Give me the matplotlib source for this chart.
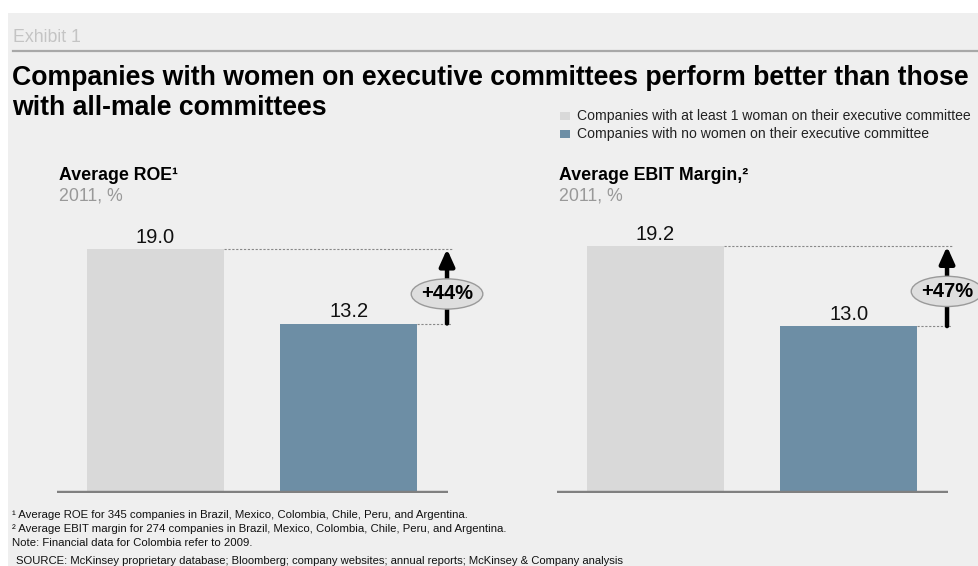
import matplotlib.pyplot as plt
from matplotlib.patches import Ellipse, Rectangle

plt.rcParams['font.family'] = ['Liberation Sans', 'DejaVu Sans']

# data
series = ['Companies with at least 1 woman on their executive committee',
          'Companies with no women on their executive committee']
roe = [19.0, 13.2]
ebit = [19.2, 13.0]
uplift = ['+44%', '+47%']
panel_titles = ['Average ROE\u00b9', 'Average EBIT Margin,\u00b2']
panel_sub = '2011, %'
footnotes = ['\u00b9 Average ROE for 345 companies in Brazil, Mexico, Colombia, Chile, Peru, and Argentina.',
             '\u00b2 Average EBIT margin for 274 companies in Brazil, Mexico, Colombia, Chile, Peru, and Argentina.',
             'Note: Financial data for Colombia refer to 2009.']
source = 'SOURCE: McKinsey proprietary database; Bloomberg; company websites; annual reports; McKinsey & Company analysis'

W, H = 979, 566
bg = '#efefef'
colors = ['#d9d9d9', '#6d8ea5']

fig = plt.figure(figsize=(W / 100, H / 100), dpi=100)
fig.patch.set_facecolor('white')

def fx(x):
    return x / W

def fy(y):
    return 1 - y / H

# gray panel background
fig.add_artist(Rectangle((fx(8), 0), 1, fy(13), transform=fig.transFigure,
                         facecolor=bg, edgecolor='none', zorder=0))

fig.text(fx(13), fy(38), 'Exhibit 1', fontsize=12.8, color='#c4c4c4', va='center')
fig.add_artist(plt.Line2D([fx(13), 1], [fy(50.5), fy(50.5)], transform=fig.transFigure,
                          color='#a8a8a8', lw=1.6))
fig.text(fx(12), fy(78), 'Companies with women on executive committees perform better than those',
         fontsize=19.2, fontweight='bold', va='center')
fig.text(fx(12), fy(108), 'with all-male committees', fontsize=19.2, fontweight='bold', va='center')

# legend
for i, (lab, c) in enumerate(zip(series, colors)):
    yc = 116 + i * 18
    fig.add_artist(Rectangle((fx(560), fy(yc + 4)), 10 / W, 8 / H, transform=fig.transFigure,
                             facecolor=c, edgecolor='none'))
    fig.text(fx(577), fy(yc), lab, fontsize=10.1, color='#222222', va='center')

# panels
lefts = [57, 557]
for k, (vals, up, title, lx) in enumerate(zip([roe, ebit], uplift, panel_titles, lefts)):
    ax = fig.add_axes([fx(lx), fy(493), 391 / W, 321 / H])
    ax.set_facecolor('none')
    ax.bar([0, 1], vals, width=0.708, color=colors, zorder=2)
    ax.set_xlim(-0.509, 1.512)
    ax.set_ylim(0, 25)
    ax.axis('off')
    ax.axhline(0, color='#808080', lw=3.2, zorder=3)
    for i, v in enumerate(vals):
        ax.text(i, v + 0.5, f'{v:.1f}', ha='center', va='baseline', fontsize=14.5, color='#111111')
    # dashed guides
    ax.plot([0.354, 1.535], [vals[0], vals[0]], ls=(0, (2, 1.5)), lw=0.8, color='#888888', clip_on=False)
    ax.plot([1.354, 1.535], [vals[1], vals[1]], ls=(0, (2, 1.5)), lw=0.8, color='#888888', clip_on=False)
    xa = 1.507
    ax.annotate('', xy=(xa, vals[0]), xytext=(xa, vals[1]),
                arrowprops=dict(arrowstyle='-|>,head_length=1.0,head_width=0.45', lw=3.2,
                                color='black', shrinkA=0, shrinkB=0),
                annotation_clip=False, zorder=4)
    ym = 15.5 if k == 0 else 15.7
    ax.add_patch(Ellipse((xa, ym), 0.37, 2.35, facecolor='#dedede', edgecolor='#9a9a9a',
                         lw=1, zorder=5, clip_on=False))
    ax.text(xa, ym, up, ha='center', va='center', fontsize=14.5, fontweight='bold', zorder=6,
            clip_on=False)
    fig.text(fx(lx + 2), fy(176), title, fontsize=12.8, fontweight='bold', va='center')
    fig.text(fx(lx + 2), fy(196), panel_sub, fontsize=12.8, color='#999999', va='center')

for i, t in enumerate(footnotes):
    fig.text(fx(12), fy(515 + i * 14), t, fontsize=8.2, color='#111111', va='center')
fig.text(fx(16), fy(561), source, fontsize=8.1, color='#111111', va='center')

fig.savefig('out.png', dpi=100, facecolor=fig.get_facecolor())
